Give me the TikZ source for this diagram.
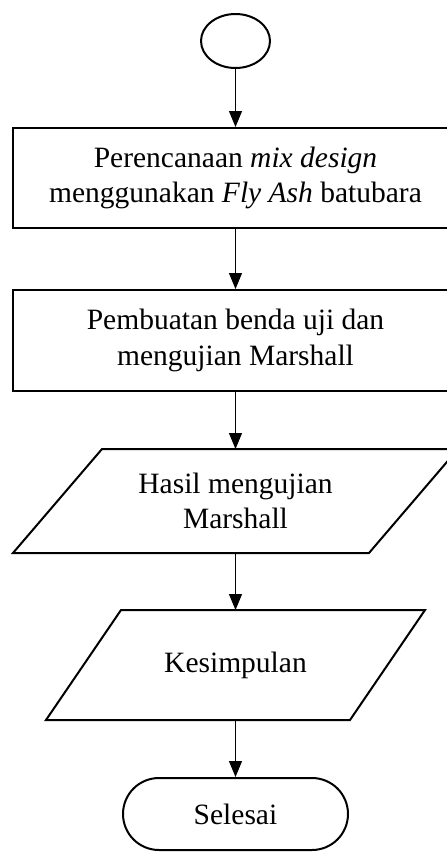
\documentclass[tikz,border=0pt]{standalone}
\usepackage{fontspec}
\setmainfont{Liberation Serif}
\usetikzlibrary{arrows.meta}
\usetikzlibrary{positioning}
\usetikzlibrary{shapes.geometric}
\usetikzlibrary{shapes.misc}
\newcommand\shapeline{2pt}
\newcommand\boxwidth{445pt}
\tikzset{
    flow/.style = {-{Triangle[width=13pt,length=16pt]}, line width=1.1pt},
    outline/.style = {line width=\shapeline, line join=miter},
}
\tikzset{
    base/.style={draw, line width=\shapeline, font=\fontsize{29.5}{35.4}\selectfont, align=center, inner sep=0pt, on grid},
    startnode/.style={base, ellipse, minimum width=69pt, minimum height=54pt},
    process/.style={base, rectangle, minimum width=\boxwidth, minimum height=100pt},
    data/.style={base, draw=none, rectangle},
    terminal/.style={base, rounded rectangle, minimum width=225pt, minimum height=72pt},
}

\begin{document}
\begin{tikzpicture}
    \useasboundingbox (0,0) rectangle (447pt,-852pt);
    \node(start)[startnode] at (235.5pt,-41pt) {};
    \node(plan)[process, below=137pt of start]{Perencanaan \textit{mix design}\\menggunakan \textit{Fly Ash} batubara};
    \node(test)[process, minimum height=101pt, below=162.5pt of plan]{Pembuatan benda uji dan\\mengujian Marshall};
    \node(result)[data, minimum width=354pt, minimum height=102pt, below=160.5pt of test]{Hasil mengujian\\Marshall};
    \node(concl)[data, minimum width=302pt, minimum height=108pt, below=164pt of result]{Kesimpulan};
    \node(finish)[terminal, below=149pt of concl]{Selesai};
    % parallelogram outlines
    \draw[outline] ([xshift=44.5pt]result.north west) -- ([xshift=44.5pt]result.north east)
        -- ([xshift=-44.5pt]result.south east) -- ([xshift=-44.5pt]result.south west) -- cycle;
    \draw[outline] ([xshift=37.5pt]concl.north west) -- ([xshift=37.5pt]concl.north east)
        -- ([xshift=-37.5pt]concl.south east) -- ([xshift=-37.5pt]concl.south west) -- cycle;
    % arrows
    \draw[flow] (start) -- (plan);
    \draw[flow] (plan) -- (test);
    \draw[flow] (test) -- (result);
    \draw[flow] (result) -- (concl);
    \draw[flow] (concl) -- (finish);
\end{tikzpicture}
\end{document}
